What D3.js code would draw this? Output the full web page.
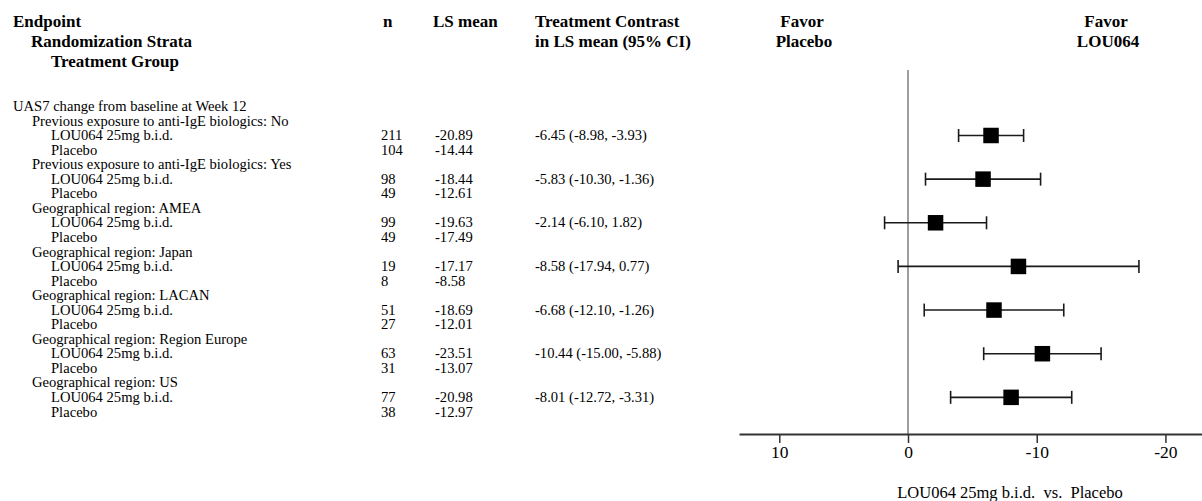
<!DOCTYPE html>
<html>
<head>
<meta charset="utf-8">
<script src="https://cdn.jsdelivr.net/npm/d3@7"></script>
<style>
  body { margin: 0; background: #fff; }
  svg { display: block; font-family: "Liberation Serif", "Times New Roman", serif; }
</style>
</head>
<body>
<svg id="chart" width="1202" height="501"></svg>
<script>
// data
const endpoint = "UAS7 change from baseline at Week 12";
const strata = [
  "Previous exposure to anti-IgE biologics: No",
  "Previous exposure to anti-IgE biologics: Yes",
  "Geographical region: AMEA",
  "Geographical region: Japan",
  "Geographical region: LACAN",
  "Geographical region: Region Europe",
  "Geographical region: US"
];
const groups = ["LOU064 25mg b.i.d.", "Placebo"];
const nLou = [211, 98, 99, 19, 51, 63, 77];
const nPbo = [104, 49, 49, 8, 27, 31, 38];
const lsLou = [-20.89, -18.44, -19.63, -17.17, -18.69, -23.51, -20.98];
const lsPbo = [-14.44, -12.61, -17.49, -8.58, -12.01, -13.07, -12.97];
const est = [-6.45, -5.83, -2.14, -8.58, -6.68, -10.44, -8.01];
const ciLow = [-8.98, -10.30, -6.10, -17.94, -12.10, -15.00, -12.72];
const ciHigh = [-3.93, -1.36, 1.82, 0.77, -1.26, -5.88, -3.31];
const tickVals = [10, 0, -10, -20];

const fmt = v => v.toFixed(2);

// flatten into text rows
const rows = [{ level: 0, label: endpoint }];
strata.forEach((s, i) => {
  rows.push({ level: 1, label: s });
  rows.push({ level: 2, label: groups[0], n: nLou[i], ls: lsLou[i], idx: i });
  rows.push({ level: 2, label: groups[1], n: nPbo[i], ls: lsPbo[i] });
});

const svg = d3.select("#chart");

const rowY = d3.scaleLinear().domain([0, rows.length - 1]).range([106.4, 411.9]);
const indent = [13, 32, 51];
const colN = 381, colLS = 435, colCI = 535;
const bodySize = "14.6px";

// header
const head = svg.append("g").style("font-weight", "bold").style("font-size", "17px");
head.append("text").attr("x", 13).attr("y", 27).text("Endpoint");
head.append("text").attr("x", 31).attr("y", 47).text("Randomization Strata");
head.append("text").attr("x", 51).attr("y", 67).text("Treatment Group");
head.append("text").attr("x", 383).attr("y", 27).text("n");
head.append("text").attr("x", 433).attr("y", 27).text("LS mean");
head.append("text").attr("x", 535).attr("y", 27).text("Treatment Contrast");
head.append("text").attr("x", 535).attr("y", 47).text("in LS mean (95% CI)");
head.append("text").attr("x", 802).attr("y", 27).attr("text-anchor", "middle").text("Favor");
head.append("text").attr("x", 804).attr("y", 47).attr("text-anchor", "middle").text("Placebo");
head.append("text").attr("x", 1106).attr("y", 27).attr("text-anchor", "middle").text("Favor");
head.append("text").attr("x", 1108).attr("y", 47).attr("text-anchor", "middle").text("LOU064");

// table body
const body = svg.append("g").style("font-size", bodySize).attr("fill", "#000");
const row = body.selectAll("g.row")
  .data(rows)
  .join("g")
  .attr("class", "row")
  .attr("transform", (d, i) => `translate(0,${rowY(i)})`);

row.append("text")
  .attr("x", d => indent[d.level])
  .attr("dy", "0.32em")
  .text(d => d.label);

row.filter(d => d.n != null).append("text")
  .attr("x", colN).attr("dy", "0.32em")
  .text(d => d.n);

row.filter(d => d.ls != null).append("text")
  .attr("x", colLS).attr("dy", "0.32em")
  .text(d => fmt(d.ls));

row.filter(d => d.idx != null).append("text")
  .attr("x", colCI).attr("dy", "0.32em")
  .text(d => `${fmt(est[d.idx])} (${fmt(ciLow[d.idx])}, ${fmt(ciHigh[d.idx])})`);

// forest plot
const x = d3.scaleLinear().domain([13.13, -22.84]).range([739, 1202]);
const axisY = 434;

svg.append("line")
  .attr("x1", x(0)).attr("x2", x(0))
  .attr("y1", 70).attr("y2", axisY)
  .attr("stroke", "#7f7f7f")
  .attr("stroke-width", 1.5);

const axis = svg.append("g")
  .attr("transform", `translate(0,${axisY})`)
  .call(d3.axisBottom(x).tickValues(tickVals).tickFormat(d => String(d)).tickSize(9).tickSizeOuter(0).tickPadding(3));
axis.select(".domain").attr("stroke", "#333").attr("stroke-width", 2);
axis.selectAll(".tick line").attr("stroke", "#333").attr("stroke-width", 1.5);
axis.selectAll(".tick text")
  .attr("fill", "#000")
  .style("font-family", "'Liberation Serif', 'Times New Roman', serif")
  .style("font-size", "17.5px");

svg.append("text")
  .attr("x", 1010).attr("y", 498)
  .attr("text-anchor", "middle")
  .style("font-size", "16.5px")
  .style("white-space", "pre")
  .text("LOU064 25mg b.i.d.  vs.  Placebo");

const ciRows = rows.map((d, i) => ({ ...d, y: rowY(i) })).filter(d => d.idx != null);
const capH = 6.5, box = 15.5;

const ci = svg.append("g").selectAll("g")
  .data(ciRows)
  .join("g")
  .attr("stroke", "#1a1a1a")
  .attr("stroke-width", 1.6);

ci.append("line")
  .attr("x1", d => x(ciLow[d.idx])).attr("x2", d => x(ciHigh[d.idx]))
  .attr("y1", d => d.y).attr("y2", d => d.y);
ci.append("line")
  .attr("x1", d => x(ciLow[d.idx])).attr("x2", d => x(ciLow[d.idx]))
  .attr("y1", d => d.y - capH).attr("y2", d => d.y + capH);
ci.append("line")
  .attr("x1", d => x(ciHigh[d.idx])).attr("x2", d => x(ciHigh[d.idx]))
  .attr("y1", d => d.y - capH).attr("y2", d => d.y + capH);
ci.append("rect")
  .attr("x", d => x(est[d.idx]) - box / 2)
  .attr("y", d => d.y - box / 2)
  .attr("width", box).attr("height", box)
  .attr("fill", "#000").attr("stroke", "none");
</script>
</body>
</html>
